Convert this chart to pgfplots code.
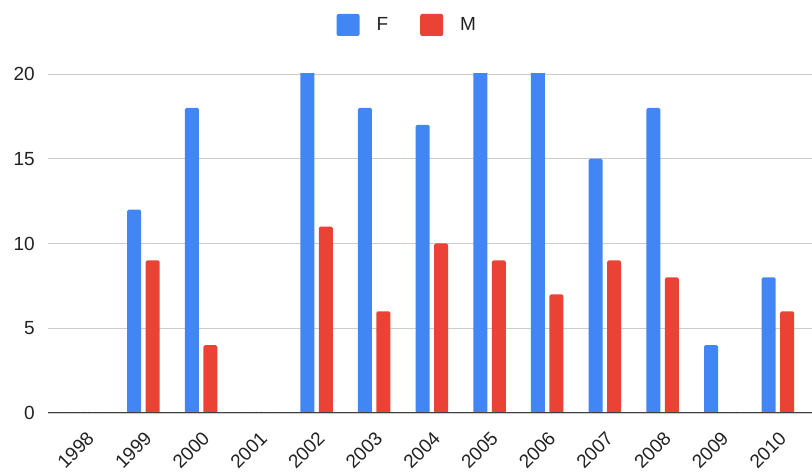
\documentclass[border=0pt]{standalone}
\usepackage{pgfplots}
\pgfplotsset{compat=1.18}
\usepackage{fontspec}
\setmainfont{Liberation Sans}
\definecolor{gF}{HTML}{4285F4}
\definecolor{gM}{HTML}{EA4335}
\definecolor{txt}{HTML}{222222}
\begin{document}
\begin{tikzpicture}
\useasboundingbox (0,0) rectangle (812pt,476pt);
\begin{axis}[
  at={(48pt,63pt)}, anchor=south west,
  scale only axis, width=764pt, height=339pt,
  ymin=0, ymax=20, xmin=-0.655, xmax=12.59,
  ybar=4.5pt, bar width=14pt,
  ytick={0,5,10,15,20},
  ymajorgrids, grid style={draw=black!20, line width=0.8pt},
  axis line style={draw=none},
  major tick length=0pt,
  xtick={0,...,12},
  xticklabels={1998,1999,2000,2001,2002,2003,2004,2005,2006,2007,2008,2009,2010},
  /pgf/number format/assume math mode=true,
  tick label style={font=\fontsize{19}{19}\selectfont, text=txt},
  yticklabel style={anchor=east, inner sep=0pt, xshift=-13pt},
  xticklabel style={rotate=45, anchor=east, inner sep=0pt, xshift=-12pt, yshift=-19pt},
  legend style={at={(0.469,1)}, anchor=center, yshift=49pt, draw=none, fill=none,
    inner sep=0pt, legend columns=2, font=\fontsize{19}{19}\selectfont, text=txt,
    nodes={inner sep=0pt},
    /tikz/every odd column/.append style={column sep=17pt},
    /tikz/every even column/.append style={column sep=32pt}},
  legend image code/.code={\fill[#1, draw=none, rounded corners=2pt] (0pt,-11pt) rectangle (23pt,11pt);},
]
\addplot[fill=gF, draw=none, rounded corners=1.5pt] coordinates {(0,0) (1,12) (2,18) (3,0) (4,21) (5,18) (6,17) (7,21) (8,21) (9,15) (10,18) (11,4) (12,8)};
\addlegendentry{F}
\addplot[fill=gM, draw=none, rounded corners=1.5pt] coordinates {(0,0) (1,9) (2,4) (3,0) (4,11) (5,6) (6,10) (7,9) (8,7) (9,9) (10,8) (11,0) (12,6)};
\addlegendentry{M}
\draw[black!75, line width=1pt] (rel axis cs:0,0) -- (rel axis cs:1,0);
\end{axis}
\end{tikzpicture}
\end{document}
